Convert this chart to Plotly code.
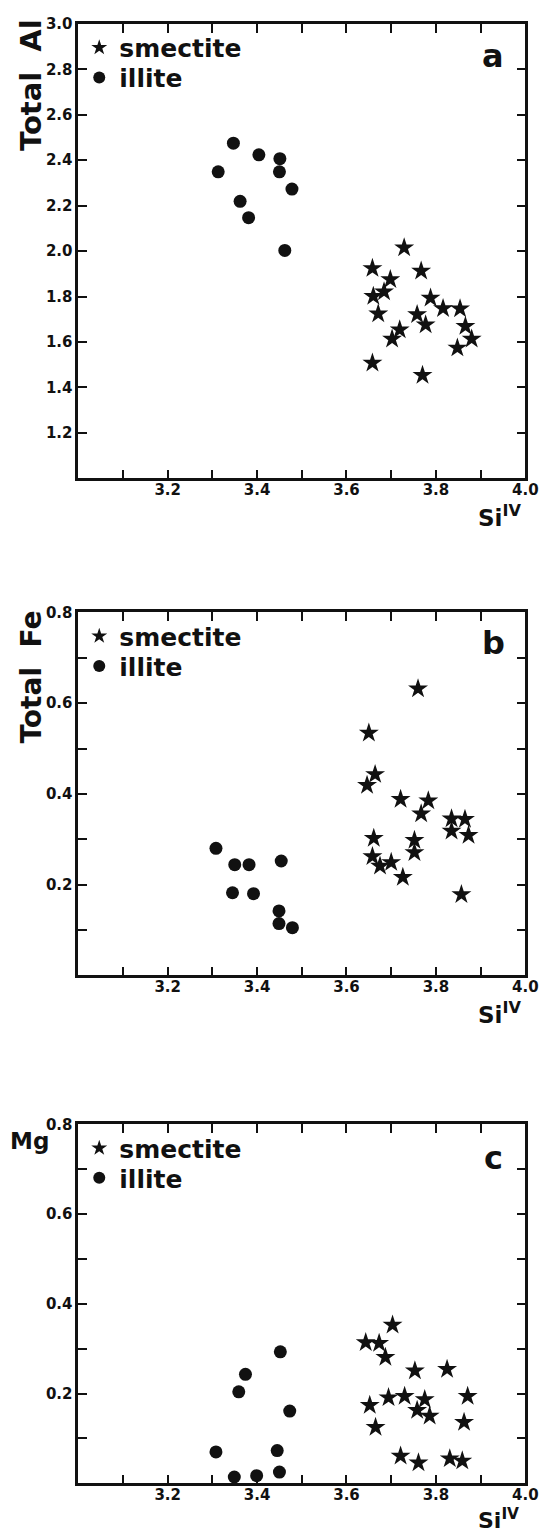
import plotly.graph_objects as go

# ---------------- data ----------------
# Panel a: Total Al vs Si(IV)
a_smectite_si = [3.729, 3.658, 3.767, 3.698, 3.684, 3.660, 3.788, 3.671, 3.816, 3.854,
                 3.758, 3.777, 3.719, 3.702, 3.866, 3.880, 3.848, 3.658, 3.770]
a_smectite_al = [2.015, 1.924, 1.912, 1.875, 1.821, 1.801, 1.794, 1.724, 1.747, 1.746,
                 1.721, 1.676, 1.654, 1.613, 1.669, 1.613, 1.574, 1.507, 1.453]
a_illite_si = [3.347, 3.313, 3.404, 3.451, 3.450, 3.478, 3.362, 3.381, 3.462]
a_illite_al = [2.475, 2.349, 2.424, 2.407, 2.349, 2.273, 2.219, 2.147, 2.003]

# Panel b: Total Fe vs Si(IV)
b_smectite_si = [3.760, 3.650, 3.664, 3.646, 3.721, 3.783, 3.767, 3.835, 3.865, 3.835,
                 3.873, 3.661, 3.752, 3.752, 3.658, 3.675, 3.700, 3.726, 3.857]
b_smectite_fe = [0.632, 0.534, 0.443, 0.419, 0.388, 0.385, 0.356, 0.345, 0.344, 0.318,
                 0.309, 0.302, 0.298, 0.271, 0.262, 0.241, 0.249, 0.216, 0.178]
b_illite_si = [3.308, 3.350, 3.382, 3.454, 3.345, 3.392, 3.449, 3.449, 3.479]
b_illite_fe = [0.280, 0.244, 0.244, 0.252, 0.182, 0.180, 0.142, 0.114, 0.105]

# Panel c: Mg vs Si(IV)
c_smectite_si = [3.703, 3.643, 3.673, 3.687, 3.753, 3.825, 3.694, 3.730, 3.775, 3.871,
                 3.652, 3.758, 3.786, 3.863, 3.665, 3.721, 3.761, 3.831, 3.859]
c_smectite_mg = [0.353, 0.314, 0.312, 0.281, 0.251, 0.254, 0.191, 0.194, 0.187, 0.194,
                 0.174, 0.163, 0.150, 0.136, 0.125, 0.061, 0.046, 0.055, 0.050]
c_illite_si = [3.452, 3.374, 3.359, 3.473, 3.308, 3.445, 3.349, 3.399, 3.450]
c_illite_mg = [0.293, 0.243, 0.204, 0.161, 0.070, 0.073, 0.014, 0.017, 0.025]

# ticks (labelled major ticks + unlabelled minor ticks)
x_tick_values = [3.2, 3.4, 3.6, 3.8, 4.0]
x_tick_labels = ["3.2", "3.4", "3.6", "3.8", "4.0"]
x_minor_values = [3.1, 3.3, 3.5, 3.7, 3.9]
al_tick_values = [1.2, 1.4, 1.6, 1.8, 2.0, 2.2, 2.4, 2.6, 2.8, 3.0]
al_tick_labels = ["1.2", "1.4", "1.6", "1.8", "2.0", "2.2", "2.4", "2.6", "2.8", "3.0"]
al_minor_values = []
fe_tick_values = [0.2, 0.4, 0.6, 0.8]
fe_tick_labels = ["0.2", "0.4", "0.6", "0.8"]
fe_minor_values = [0.1, 0.3, 0.5, 0.7]
mg_tick_values = [0.2, 0.4, 0.6, 0.8]
mg_tick_labels = ["0.2", "0.4", "0.6", "0.8"]
mg_minor_values = [0.1, 0.3, 0.5, 0.7]

legend_names = ["smectite", "illite"]
panel_letters = ["a", "b", "c"]
y_titles = ["Total\u00a0 Al", "Total\u00a0 Fe", "Mg"]
x_title = "Si<sup>IV</sup>"

# ---------------- layout geometry (page pixels) ----------------
PAGE_W, PAGE_H = 551, 1533
OFF = 8                       # default body margin of the html page
W, H = PAGE_W - OFF, PAGE_H - OFF
X0, X1 = 80, 538
panels_px = [(15, 472), (607, 972), (1122, 1483)]  # (top, bottom) in page px
letter_dy = [32, 31, 34]
xtitle_dy = [38, 38, 36]

def px(x):
    return (x - OFF) / W

def py(y):
    return 1 - (y - OFF) / H

FONT = "DejaVu Sans"
BLACK = "#111111"

fig = go.Figure()

panel_data = [
    (a_smectite_si, a_smectite_al, a_illite_si, a_illite_al),
    (b_smectite_si, b_smectite_fe, b_illite_si, b_illite_fe),
    (c_smectite_si, c_smectite_mg, c_illite_si, c_illite_mg),
]

def legend_id(k):
    return "legend" if k == 0 else f"legend{k+1}"

for i, (ssi, sv, isi, iv) in enumerate(panel_data):
    xa = "x" if i == 0 else f"x{i+1}"
    ya = "y" if i == 0 else f"y{i+1}"
    fig.add_trace(go.Scatter(
        x=ssi, y=sv, mode="markers", name=legend_names[0],
        xaxis=xa, yaxis=ya, legend=legend_id(2 * i),
        marker=dict(symbol="star", size=15, color=BLACK, line=dict(width=0)),
    ))
    fig.add_trace(go.Scatter(
        x=isi, y=iv, mode="markers", name=legend_names[1],
        xaxis=xa, yaxis=ya, legend=legend_id(2 * i + 1),
        marker=dict(symbol="circle", size=13, color=BLACK, line=dict(width=0)),
    ))

axis_common = dict(
    showline=True, linecolor=BLACK, linewidth=2.5, mirror="ticks",
    ticks="inside", ticklen=9, tickwidth=1.5, tickcolor=BLACK,
    showgrid=False, zeroline=False,
    tickfont=dict(family=FONT, size=15, color=BLACK, weight="bold"),
    fixedrange=True, ticklabeloverflow="allow",
)

def minor(vals):
    return dict(tickmode="array", tickvals=vals, ticks="inside", ticklen=9,
                tickwidth=1.5, tickcolor=BLACK, showgrid=False)

y_ticks = [(al_tick_values, al_tick_labels, al_minor_values, [1.0, 3.0]),
           (fe_tick_values, fe_tick_labels, fe_minor_values, [0.0, 0.8]),
           (mg_tick_values, mg_tick_labels, mg_minor_values, [0.0, 0.8])]

layout_axes = {}
for i, (top, bot) in enumerate(panels_px):
    sfx = "" if i == 0 else str(i + 1)
    yv, yl, ym, yr = y_ticks[i]
    layout_axes[f"xaxis{sfx}"] = dict(
        axis_common, domain=[px(X0), px(X1)], range=[3.0, 4.0],
        tickmode="array", tickvals=x_tick_values, ticktext=x_tick_labels,
        minor=minor(x_minor_values), anchor=f"y{sfx}", ticklabelstandoff=-4,
    )
    ydict = dict(
        axis_common, domain=[py(bot), py(top)], range=yr,
        tickmode="array", tickvals=yv, ticktext=yl, anchor=f"x{sfx}",
    )
    if ym:
        ydict["minor"] = minor(ym)
    layout_axes[f"yaxis{sfx}"] = ydict

annotations = []
for i, (top, bot) in enumerate(panels_px):
    annotations.append(dict(
        xref="paper", yref="paper", x=px(X1 - 33), y=py(top + letter_dy[i]),
        xanchor="center", yanchor="middle", showarrow=False,
        text=f"<b>{panel_letters[i]}</b>",
        font=dict(family=FONT, size=32, color=BLACK),
    ))
    annotations.append(dict(
        xref="paper", yref="paper", x=px(487), y=py(bot + xtitle_dy[i]),
        xanchor="left", yanchor="middle", showarrow=False,
        text=f"<b>{x_title}</b>",
        font=dict(family=FONT, size=23 if i < 2 else 22, color=BLACK),
    ))

annotations.append(dict(
    xref="paper", yref="paper", x=px(31), y=py(76),
    xanchor="center", yanchor="middle", showarrow=False, textangle=-90,
    text=f"<b>{y_titles[0]}</b>", font=dict(family=FONT, size=29, color=BLACK),
))
annotations.append(dict(
    xref="paper", yref="paper", x=px(32), y=py(672),
    xanchor="center", yanchor="middle", showarrow=False, textangle=-90,
    text=f"<b>{y_titles[1]}</b>", font=dict(family=FONT, size=28, color=BLACK),
))
annotations.append(dict(
    xref="paper", yref="paper", x=px(30), y=py(1139),
    xanchor="center", yanchor="middle", showarrow=False,
    text=f"<b>{y_titles[2]}</b>", font=dict(family=FONT, size=23, color=BLACK),
))

legend_common = dict(
    bgcolor="rgba(0,0,0,0)", borderwidth=0, itemsizing="constant",
    font=dict(family=FONT, size=25, color=BLACK, weight="bold"),
    xanchor="left", yanchor="middle", tracegroupgap=0, itemclick=False,
    itemdoubleclick=False,
)
legends = {}
for i, (top, bot) in enumerate(panels_px):
    legends[legend_id(2 * i)] = dict(legend_common, x=px(81), y=py(top + 24))
    legends[legend_id(2 * i + 1)] = dict(legend_common, x=px(81), y=py(top + 54))

fig.update_layout(
    width=W, height=H,
    margin=dict(l=0, r=0, t=0, b=0),
    paper_bgcolor="white", plot_bgcolor="white",
    showlegend=True,
    annotations=annotations,
    **layout_axes,
    **legends,
)

fig.write_html("out.html")
